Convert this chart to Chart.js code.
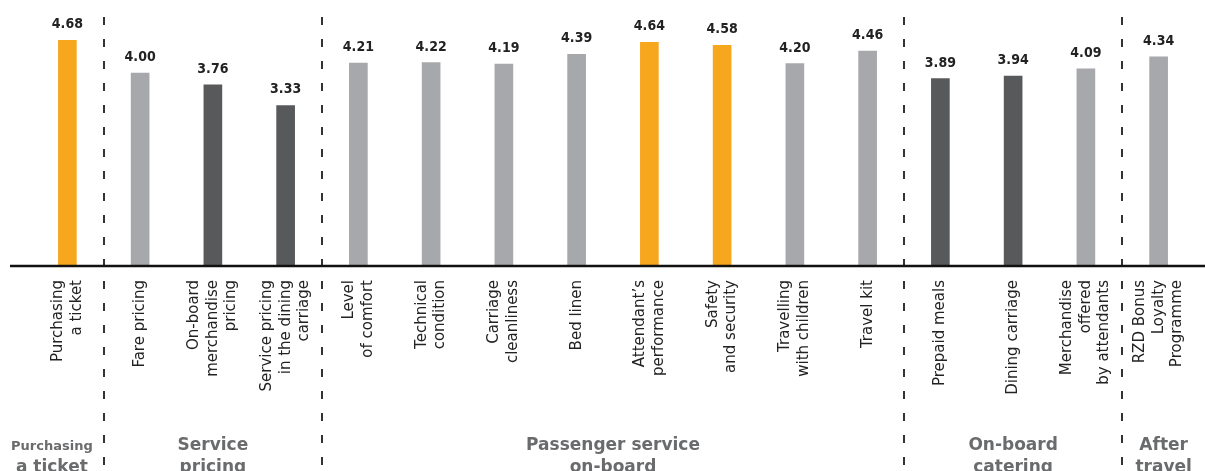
<!DOCTYPE html>
<html>
<head>
<meta charset="utf-8">
<script src="https://cdn.jsdelivr.net/npm/chart.js@4"></script>
<style>
  body { margin: 0; background: #fff; }
  canvas { display: block; }
</style>
</head>
<body>
<canvas id="myChart" width="1205" height="471"></canvas>
<script>
// Categories (each label split into lines)
var categories = [
  ["Purchasing", "a ticket"],
  ["Fare pricing"],
  ["On-board", "merchandise", "pricing"],
  ["Service pricing", "in the dining", "carriage"],
  ["Level", "of comfort"],
  ["Technical", "condition"],
  ["Carriage", "cleanliness"],
  ["Bed linen"],
  ["Attendant\u2019s", "performance"],
  ["Safety", "and security"],
  ["Travelling", "with children"],
  ["Travel kit"],
  ["Prepaid meals"],
  ["Dining carriage"],
  ["Merchandise", "offered", "by attendants"],
  ["RZD Bonus", "Loyalty", "Programme"]
];
// Scores
var scores = [4.68, 4.00, 3.76, 3.33, 4.21, 4.22, 4.19, 4.39, 4.64, 4.58, 4.20, 4.46, 3.89, 3.94, 4.09, 4.34];
// Groups along the bottom
var groupNames = [
  ["Purchasing", "a ticket"],
  ["Service", "pricing"],
  ["Passenger service", "on-board"],
  ["On-board", "catering"],
  ["After", "travel"]
];
var groupSizes = [1, 3, 8, 3, 1];

// top 3 orange, lowest 4 dark grey, the rest light grey
var sorted = scores.slice().sort(function(a, b) { return b - a; });
var colors = scores.map(function(v) {
  if (v >= sorted[2]) return "#F6A71E";
  if (v <= sorted[sorted.length - 4]) return "#58595B";
  return "#A7A8AB";
});

var LINE_H = 15 * 1.24;

var extras = {
  id: "extras",
  beforeDraw: function(chart) {
    // center multi-line rotated tick labels on their bar
    var items = chart.scales.x.getLabelItems();
    items.forEach(function(it) {
      if (it._centered) return;
      var n = Array.isArray(it.label) ? it.label.length : 1;
      it.options.translation[0] -= (n - 1) * LINE_H / 2;
      it._centered = true;
    });
  },
  afterDatasetsDraw: function(chart) {
    var ctx = chart.ctx;
    var x = chart.scales.x;
    var area = chart.chartArea;
    var W = chart.width, H = chart.height;

    // separators
    var seps = [];
    var idx = 0;
    for (var g = 0; g < groupSizes.length - 1; g++) {
      idx += groupSizes[g];
      seps.push((x.getPixelForValue(idx - 1) + x.getPixelForValue(idx)) / 2);
    }
    ctx.save();
    ctx.strokeStyle = "#333";
    ctx.lineWidth = 2;
    ctx.setLineDash([8, 14]);
    seps.forEach(function(sx) {
      ctx.beginPath();
      ctx.moveTo(Math.round(sx), 17);
      ctx.lineTo(Math.round(sx), H);
      ctx.stroke();
    });
    ctx.restore();

    // baseline
    ctx.save();
    ctx.strokeStyle = "#111";
    ctx.lineWidth = 2.5;
    ctx.beginPath();
    ctx.moveTo(10, area.bottom);
    ctx.lineTo(W, area.bottom);
    ctx.stroke();
    ctx.restore();

    // values
    var meta = chart.getDatasetMeta(0);
    ctx.save();
    ctx.fillStyle = "#222";
    ctx.font = "bold 14px 'DejaVu Sans Condensed', 'DejaVu Sans'";
    ctx.textAlign = "center";
    ctx.textBaseline = "alphabetic";
    meta.data.forEach(function(bar, i) {
      ctx.fillText(scores[i].toFixed(2), bar.x, bar.y - 12);
    });
    ctx.restore();

    // group labels
    var edges = [0].concat(seps).concat([W]);
    ctx.save();
    ctx.fillStyle = "#6A6B6D";
    ctx.textAlign = "center";
    groupNames.forEach(function(lines, gi) {
      var cx = (edges[gi] + edges[gi + 1]) / 2;
      var span = edges[gi + 1] - edges[gi];
      lines.forEach(function(t, li) {
        var size = 17;
        ctx.font = "bold " + size + "px 'DejaVu Sans'";
        var w = ctx.measureText(t).width;
        if (w > span - 18) {
          size = Math.floor(size * (span - 18) / w);
          ctx.font = "bold " + size + "px 'DejaVu Sans'";
        }
        ctx.fillText(t, cx, 450 + li * 22);
      });
    });
    ctx.restore();
  }
};

var ctx = document.getElementById("myChart");
var myChart = new Chart(ctx, {
  type: "bar",
  data: {
    labels: categories,
    datasets: [{
      data: scores,
      backgroundColor: colors,
      barThickness: 18,
      borderWidth: 0
    }]
  },
  options: {
    responsive: false,
    animation: false,
    devicePixelRatio: 1,
    layout: { padding: { left: 31, right: 10, top: 25, bottom: 0 } },
    plugins: { legend: { display: false }, tooltip: { enabled: false } },
    scales: {
      x: {
        grid: { display: false, drawTicks: false },
        border: { display: false },
        ticks: {
          minRotation: 90,
          maxRotation: 90,
          padding: 14,
          color: "#222",
          font: { family: "'DejaVu Sans'", size: 15, lineHeight: 1.24 }
        },
        afterFit: function(s) {
          s.height = 205;
          s.paddingLeft = 0;
          s.paddingRight = 0;
        }
      },
      y: { display: false, min: 0, max: 5 }
    }
  },
  plugins: [extras]
});
</script>
</body>
</html>
